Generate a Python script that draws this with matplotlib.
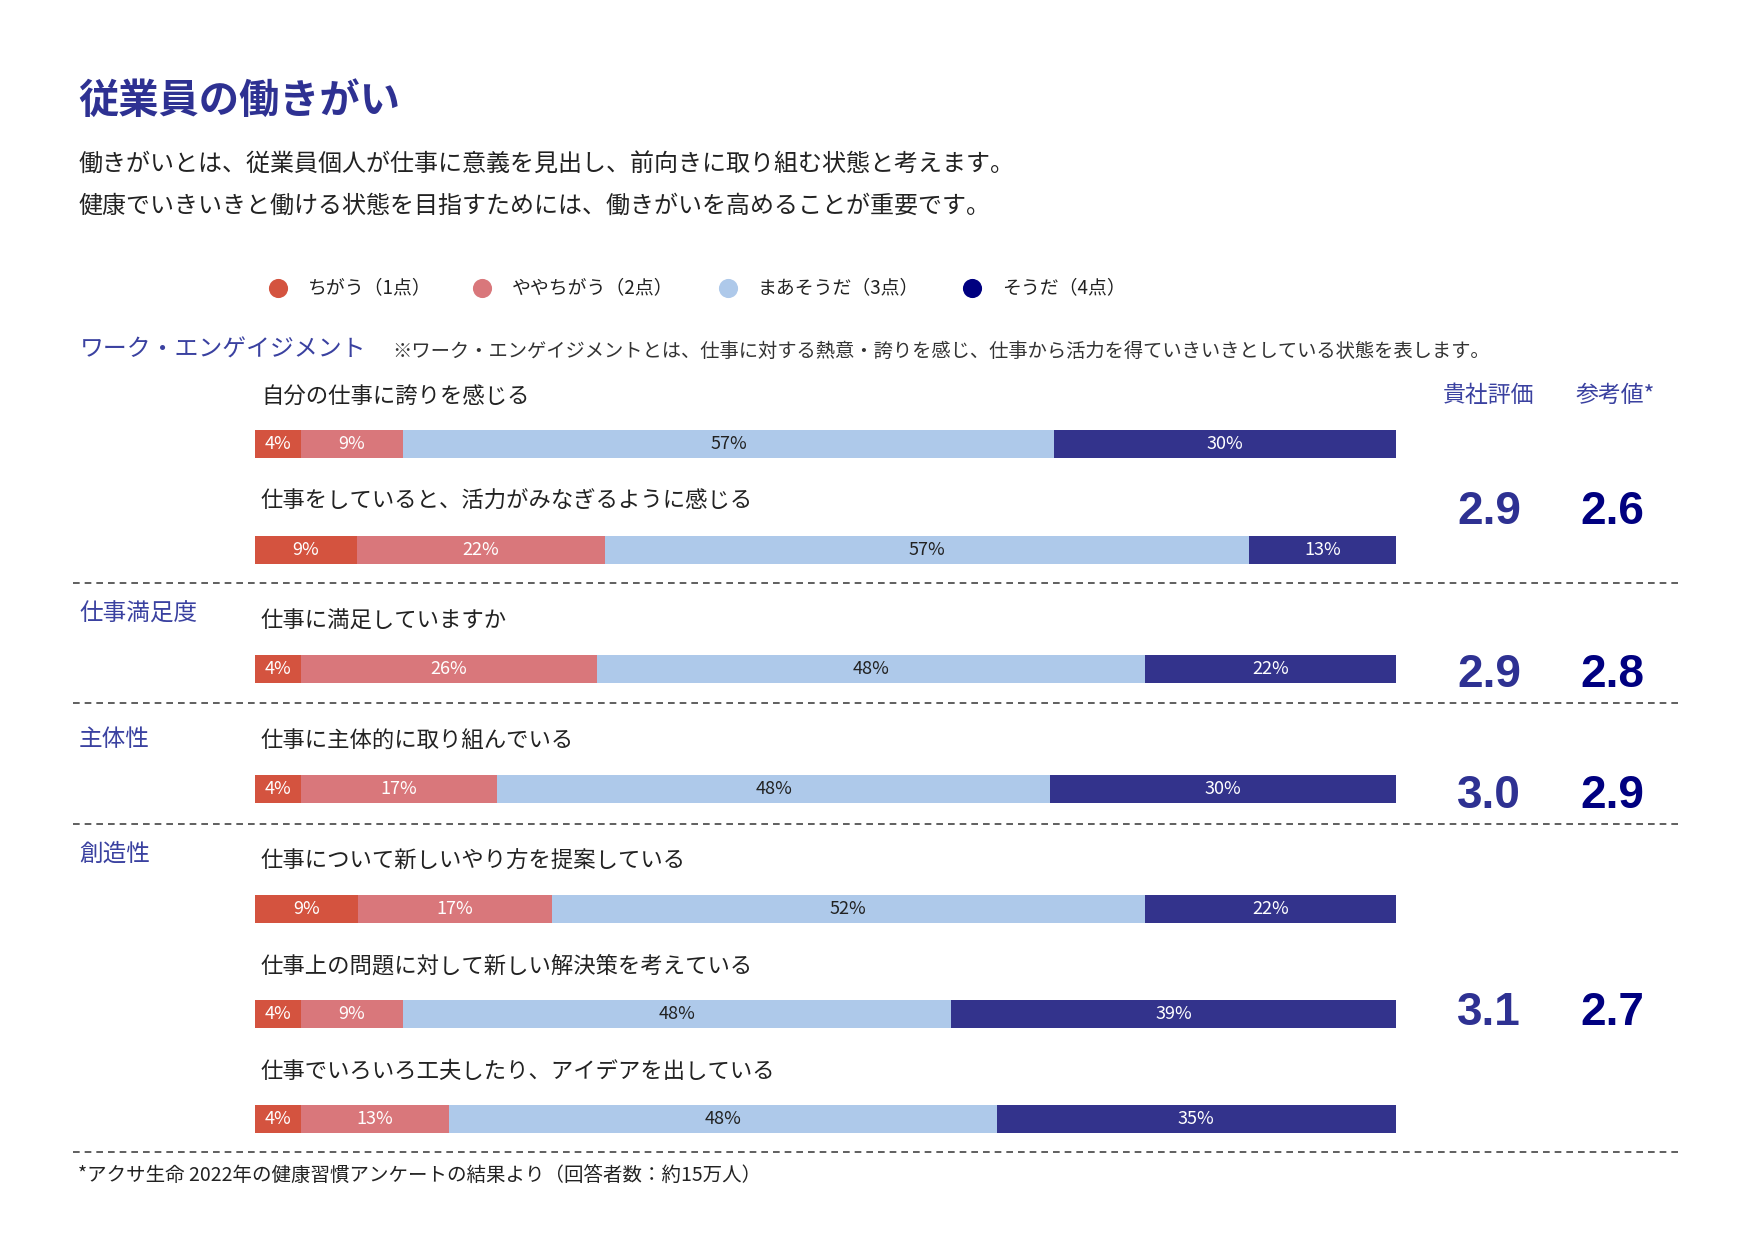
import matplotlib
matplotlib.use("Agg")
import matplotlib.pyplot as plt
import numpy as np

plt.rcParams['font.family'] = ['Noto Sans CJK JP', 'DejaVu Sans']

# ---- data ----
title = '従業員の働きがい'
intro = ['働きがいとは、従業員個人が仕事に意義を見出し、前向きに取り組む状態と考えます。',
         '健康でいきいきと働ける状態を目指すためには、働きがいを高めることが重要です。']
legend_labels = ['ちがう（1点）', 'ややちがう（2点）', 'まあそうだ（3点）', 'そうだ（4点）']
questions = ['自分の仕事に誇りを感じる',
             '仕事をしていると、活力がみなぎるように感じる',
             '仕事に満足していますか',
             '仕事に主体的に取り組んでいる',
             '仕事について新しいやり方を提案している',
             '仕事上の問題に対して新しい解決策を考えている',
             '仕事でいろいろ工夫したり、アイデアを出している']
pct_1 = [4, 9, 4, 4, 9, 4, 4]
pct_2 = [9, 22, 26, 17, 17, 9, 13]
pct_3 = [57, 57, 48, 48, 52, 48, 48]
pct_4 = [30, 13, 22, 30, 22, 39, 35]
sections = ['ワーク・エンゲイジメント', '仕事満足度', '主体性', '創造性']
company_score = [2.9, 2.9, 3.0, 3.1]
reference_score = [2.6, 2.8, 2.9, 2.7]
note = '※ワーク・エンゲイジメントとは、仕事に対する熱意・誇りを感じ、仕事から活力を得ていきいきとしている状態を表します。'
footnote = '*アクサ生命 2022年の健康習慣アンケートの結果より（回答者数：約15万人）'

# ---- style / layout (pixel space) ----
colors = ['#d4533f', '#d9777b', '#aec9ea', '#33338c']
text_colors = ['white', 'white', '#222222', 'white']
legend_colors = ['#d4533f', '#d9777b', '#aec9ea', '#000080']
blue = '#2e3192'
label_blue = '#3a41a0'

W, H = 1755, 1240
fig = plt.figure(figsize=(W / 100, H / 100), dpi=100)
ax = fig.add_axes([0, 0, 1, 1])
ax.set_xlim(0, W)
ax.set_ylim(H, 0)
ax.axis('off')

ax.text(78, 101, title, fontsize=29, fontweight='bold', color=blue, va='center')
for i, line in enumerate(intro):
    ax.text(79, 165 + i * 41, line, fontsize=17.3, color='#222222', va='center')

# legend
leg_x = [278, 482, 728, 972]
for x, lab, c in zip(leg_x, legend_labels, legend_colors):
    ax.scatter([x], [288], s=190, color=c, linewidths=0)
    ax.text(x + 30, 288, lab, fontsize=13.6, color='#222222', va='center')

# section labels and notes
ax.text(80, 350, sections[0], fontsize=17.2, color=label_blue, va='center')
ax.text(392, 351, note, fontsize=13.9, color='#333333', va='center')
sec_y = [614, 740, 854]
for lab, y in zip(sections[1:], sec_y):
    ax.text(79, y, lab, fontsize=17, color=label_blue, va='center')

# headers
ax.text(1489, 395, '貴社評価', fontsize=16.5, color=label_blue, ha='center', va='center')
ax.text(1615, 395, '参考値*', fontsize=16.5, color=label_blue, ha='center', va='center')

# bars
bar_x0, bar_x1 = 255, 1396
bar_w = bar_x1 - bar_x0
q_y = [397, 501, 621, 741, 861, 966, 1071]
bar_y = [444, 550, 669, 789, 909, 1014, 1119]
vals = np.array([pct_1, pct_2, pct_3, pct_4], dtype=float).T
for i in range(len(questions)):
    ax.text(261, q_y[i], questions[i], fontsize=16.1, color='#222222', va='center')
    row = vals[i]
    frac = row / row.sum()
    left = bar_x0 + np.concatenate([[0], np.cumsum(frac)[:-1]]) * bar_w
    widths = frac * bar_w
    ax.barh([bar_y[i]] * 4, widths, left=left, height=28, color=colors, linewidth=0)
    for l, w, v, tc in zip(left, widths, row, text_colors):
        ax.text(l + w / 2, bar_y[i], f'{int(v)}%', fontsize=13, color=tc,
                ha='center', va='center')

# scores
score_y = [512, 675, 796, 1013]
for cs, rs, y in zip(company_score, reference_score, score_y):
    ax.text(1489, y, f'{cs:.1f}', fontsize=33, fontweight='bold', color=blue,
            family='Liberation Sans', ha='center', va='center')
    ax.text(1612, y, f'{rs:.1f}', fontsize=33, fontweight='bold', color='#000080',
            family='Liberation Sans', ha='center', va='center')

# dashed separators
for y in [583, 703, 824, 1152]:
    ax.plot([73, 1679], [y, y], color='#444444', linestyle=(0, (4, 3)), linewidth=1.2)

ax.text(78, 1176, footnote, fontsize=14, color='#222222', va='center')

fig.savefig('out.png', dpi=100, facecolor='white')
